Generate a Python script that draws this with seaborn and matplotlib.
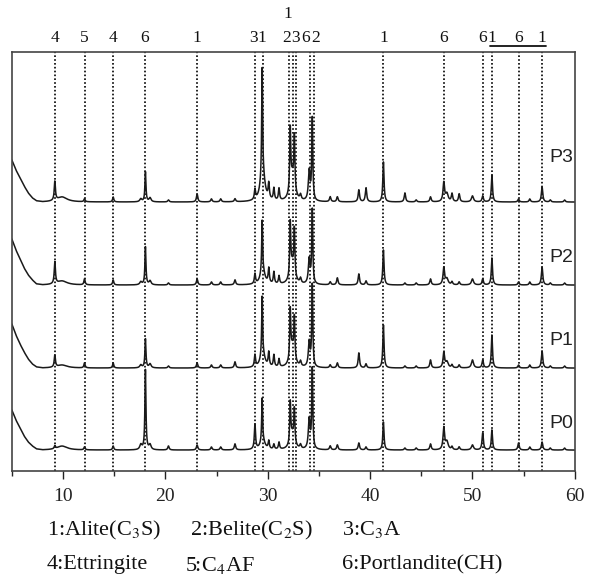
import numpy as np
import pandas as pd
import matplotlib
matplotlib.use("Agg")
import matplotlib.pyplot as plt
import matplotlib.transforms as mtransforms
import seaborn as sns

# ---------------- data ----------------
series = ["P0", "P1", "P2", "P3"]

# low-angle background (2theta, intensity per series)
bg_x = [5.0, 5.4, 5.8, 6.2, 6.6, 7.0, 7.4, 8.0]
bg_P0 = [40, 30, 22, 14, 8, 4, 1, 0]
bg_P1 = [44, 33, 24, 16, 9, 4, 1, 0]
bg_P2 = [46, 35, 26, 17, 10, 5, 1, 0]
bg_P3 = [42, 32, 24, 16, 9, 4, 1, 0]

# peak positions (2theta) and widths
peak_pos = [9.2, 9.9, 12.1, 14.9, 17.6, 18.05, 18.5, 20.3, 23.1, 24.5, 25.4, 26.8,
            28.75, 29.45, 29.5, 30.1, 30.6, 31.1, 32.2, 32.6, 32.4, 33.2, 34.05, 34.35,
            36.1, 36.8, 38.9, 39.6, 41.3, 43.4, 44.5, 45.9, 47.2, 47.5, 48.0, 48.7,
            50.0, 51.0, 51.9, 54.5, 55.6, 56.8, 57.6, 59.0]
peak_w = [0.07, 0.6, 0.07, 0.07, 0.12, 0.06, 0.12, 0.08, 0.08, 0.08, 0.08, 0.08,
          0.07, 0.05, 0.25, 0.07, 0.07, 0.07, 0.06, 0.06, 0.25, 0.08, 0.1, 0.06,
          0.08, 0.08, 0.08, 0.08, 0.07, 0.08, 0.08, 0.08, 0.09, 0.15, 0.08, 0.08,
          0.12, 0.08, 0.07, 0.08, 0.08, 0.08, 0.08, 0.08]
h_P0 = [3, 4, 3, 4, 5, 80, 5, 4, 5, 3, 3, 6,
        25, 42, 10, 8, 5, 7, 40, 33, 15, 4, 30, 80,
        4, 5, 7, 3, 28, 2, 2, 6, 22, 8, 3, 3,
        5, 17, 20, 7, 3, 8, 2, 2]
h_P1 = [12, 3, 5, 5, 3, 29, 4, 2, 5, 3, 3, 6,
        12, 57, 15, 14, 12, 8, 48, 40, 20, 5, 25, 82,
        3, 5, 15, 4, 43, 2, 2, 8, 15, 6, 3, 3,
        8, 8, 33, 3, 3, 17, 2, 2]
h_P2 = [22, 4, 6, 5, 3, 38, 4, 2, 6, 3, 3, 5,
        10, 50, 15, 15, 12, 8, 52, 45, 20, 5, 25, 74,
        3, 7, 11, 4, 35, 2, 2, 6, 17, 6, 3, 3,
        6, 6, 27, 3, 3, 18, 2, 2]
h_P3 = [19, 5, 3, 5, 3, 30, 4, 2, 8, 3, 3, 3,
        10, 105, 30, 15, 12, 12, 60, 52, 25, 5, 30, 82,
        5, 5, 12, 14, 40, 9, 2, 5, 19, 8, 8, 8,
        6, 6, 27, 3, 3, 15, 2, 2]

# phase marker lines and their labels
line_pos = [9.2, 12.1, 14.9, 18.0, 23.1, 28.75, 29.5, 32.1, 32.5, 32.8, 34.1, 34.5,
            41.3, 47.2, 51.0, 51.9, 54.5, 56.8]
label_pos = [9.2, 12.1, 14.9, 18.0, 23.1, 28.6, 29.4, 31.85, 32.7, 33.7, 34.65,
             41.3, 47.2, 51.0, 51.9, 54.5, 56.8]
label_txt = ["4", "5", "4", "6", "1", "3", "1", "2", "3", "6", "2",
             "1", "6", "6", "1", "6", "1"]
upper_label_pos = [31.95]
upper_label_txt = ["1"]

legend_row1 = ["1:Alite(C$_3$S)", "2:Belite(C$_2$S)", "3:C$_3$A"]
legend_row2 = ["4:Ettringite", "5:C$_4$AF", "6:Portlandite(CH)"]
x_ticks = [10, 20, 30, 40, 50, 60]

# ---------------- build profiles ----------------
offsets = {"P0": 0, "P1": 82, "P2": 165, "P3": 248}
label_dy = {"P0": 27, "P1": 28, "P2": 28, "P3": 45}
heights = {"P0": h_P0, "P1": h_P1, "P2": h_P2, "P3": h_P3}
bgs = {"P0": bg_P0, "P1": bg_P1, "P2": bg_P2, "P3": bg_P3}

x = np.arange(5.0, 60.0001, 0.01)
frames = []
for s in series:
    y = np.interp(x, bg_x, bgs[s], right=0.0)
    for p, w, h in zip(peak_pos, peak_w, heights[s]):
        y = y + h / (1.0 + ((x - p) / w) ** 2)
    frames.append(pd.DataFrame({"two_theta": x, "intensity": y + offsets[s], "sample": s}))
df = pd.concat(frames, ignore_index=True)

# ---------------- plot ----------------
sns.set_style("ticks")
plt.rcParams["font.family"] = ["Liberation Serif", "DejaVu Serif"]
plt.rcParams["mathtext.fontset"] = "stix"

fig = plt.figure(figsize=(5.92, 5.78), dpi=100)
ax = fig.add_axes([0.020, 0.185, 0.951, 0.725])

for xv in line_pos:
    ax.axvline(xv, color="black", linestyle=(0, (1, 1.3)), linewidth=1.2, zorder=1)

sns.lineplot(data=df, x="two_theta", y="intensity", hue="sample",
             palette={s: "#1a1a1a" for s in series}, estimator=None, sort=False,
             linewidth=1.1, legend=False, ax=ax, zorder=2)

ax.set_xlim(5, 60)
ax.set_ylim(-21, 398)
ax.set_xticks(x_ticks)
ax.set_xticks(np.arange(5, 61, 5), minor=True)
ax.set_yticks([])
ax.set_xlabel("")
ax.set_ylabel("")
ax.tick_params(axis="x", which="major", direction="out", length=6, width=1.0,
               labelsize=14, pad=6, colors="#222222")
ax.tick_params(axis="x", which="minor", direction="out", length=3.5, width=1.0)
for sp in ax.spines.values():
    sp.set_visible(True)
    sp.set_linewidth(1.2)
    sp.set_color("#444444")

for s in series:
    ax.text(59.8, offsets[s] + label_dy[s], s, ha="right", va="center",
            fontsize=14, family=["Liberation Sans", "DejaVu Sans"], color="#222222")

trans = mtransforms.blended_transform_factory(ax.transData, ax.transAxes)
for xp, t in zip(label_pos, label_txt):
    ax.text(xp, 1.033, t, transform=trans, ha="center", va="center",
            fontsize=12.5, color="#111111")
for xp, t in zip(upper_label_pos, upper_label_txt):
    ax.text(xp, 1.091, t, transform=trans, ha="center", va="center",
            fontsize=12.5, color="#111111")
ax.plot([51.7, 57.2], [1.015, 1.015], transform=trans, color="#111111",
        linewidth=1.3, clip_on=False)

col_x = [47 / 592, 190 / 592, 342 / 592]
col_x2 = [47 / 592, 185 / 592, 342 / 592]
for cx, t in zip(col_x, legend_row1):
    fig.text(cx, 1 - 530 / 578, t, ha="left", va="center", fontsize=16, color="#111111")
for cx, t in zip(col_x2, legend_row2):
    fig.text(cx, 1 - 565 / 578, t, ha="left", va="center", fontsize=16, color="#111111")

fig.savefig("out.png", dpi=100)
